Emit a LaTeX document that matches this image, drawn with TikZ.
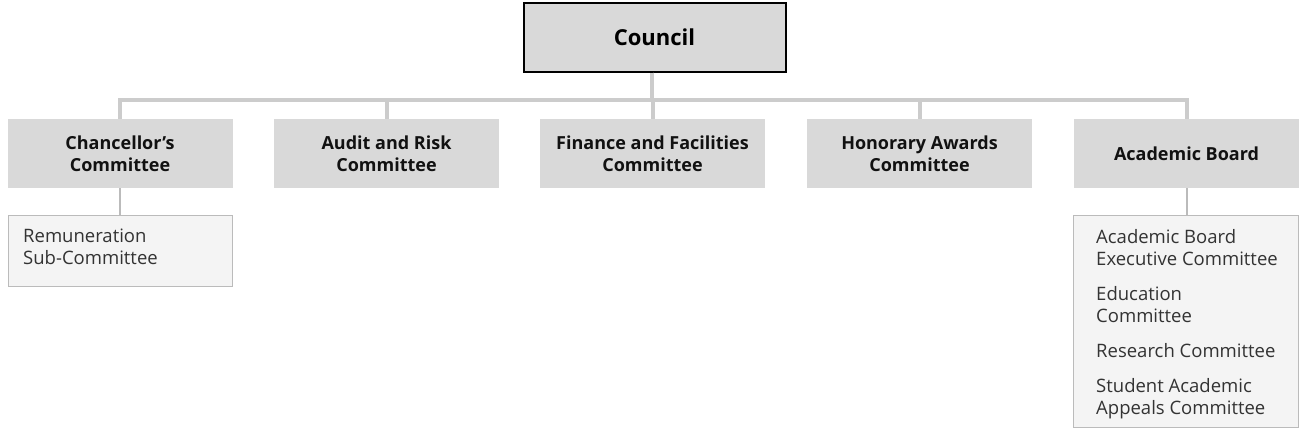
\documentclass[tikz,border=0pt]{standalone}
\usepackage{fontspec}
\setmainfont{Open Sans}
\begin{document}
\begin{tikzpicture}[x=1pt,y=-1pt,
  topbox/.style={draw=black,line width=2pt,fill=boxgray,minimum width=262pt,minimum height=68pt,font=\bfseries\fontsize{22}{26}\selectfont,inner sep=0pt},
  midbox/.style={fill=boxgray,minimum width=225pt,minimum height=69pt,align=center,font=\bfseries\fontsize{18}{22}\selectfont,inner sep=0pt,text=txtbold},
  subbox/.style={draw=subline,line width=1pt,fill=subfill,anchor=north west,inner sep=0pt},
  subtext/.style={anchor=north west,align=left,inner sep=0pt,font=\fontsize{18.5}{22}\selectfont,text=txtreg},
  conn/.style={draw=bar,line width=4pt},
  subconn/.style={draw=subline,line width=2pt}]
\definecolor{boxgray}{HTML}{D9D9D9}
\definecolor{bar}{HTML}{CCCCCC}
\definecolor{subline}{HTML}{BBBBBB}
\definecolor{subfill}{HTML}{F4F4F4}
\definecolor{txtbold}{HTML}{111111}
\definecolor{txtreg}{HTML}{333333}
\useasboundingbox (0,0) rectangle (1300,436);
\node[topbox] (council) at (654.5,37.5) {Council};
\node[midbox] (c1) at (120,153.5) {Chancellor’s\\Committee};
\node[midbox] (c2) at (386.5,153.5) {Audit and Risk\\Committee};
\node[midbox] (c3) at (652.5,153.5) {Finance and Facilities\\Committee};
\node[midbox] (c4) at (919.5,153.5) {Honorary Awards\\Committee};
\node[midbox] (c5) at (1186.5,153.5) {Academic Board};
\node[subbox,minimum width=224pt,minimum height=71pt] (s1) at (8,215) {};
\node[subtext] (t1) at (23,229) {Remuneration\\Sub-Committee};
\node[subbox,minimum width=225pt,minimum height=212pt] (s2) at (1073,215) {};
\node[subtext] (t2) at (1096,229) {Academic Board\\Executive Committee\\[13pt]Education\\Committee\\[13pt]Research Committee\\[13pt]Student Academic\\Appeals Committee};
\coordinate (barmid) at (652,100);
\foreach \c in {c1,c2,c3,c4,c5}{
  \draw[conn] (council.south -| barmid) -- (barmid) -| (\c.north);
}
\draw[subconn] (c1.south) -- (s1.north -| c1.south);
\draw[subconn] (c5.south) -- (s2.north -| c5.south);
\end{tikzpicture}
\end{document}
